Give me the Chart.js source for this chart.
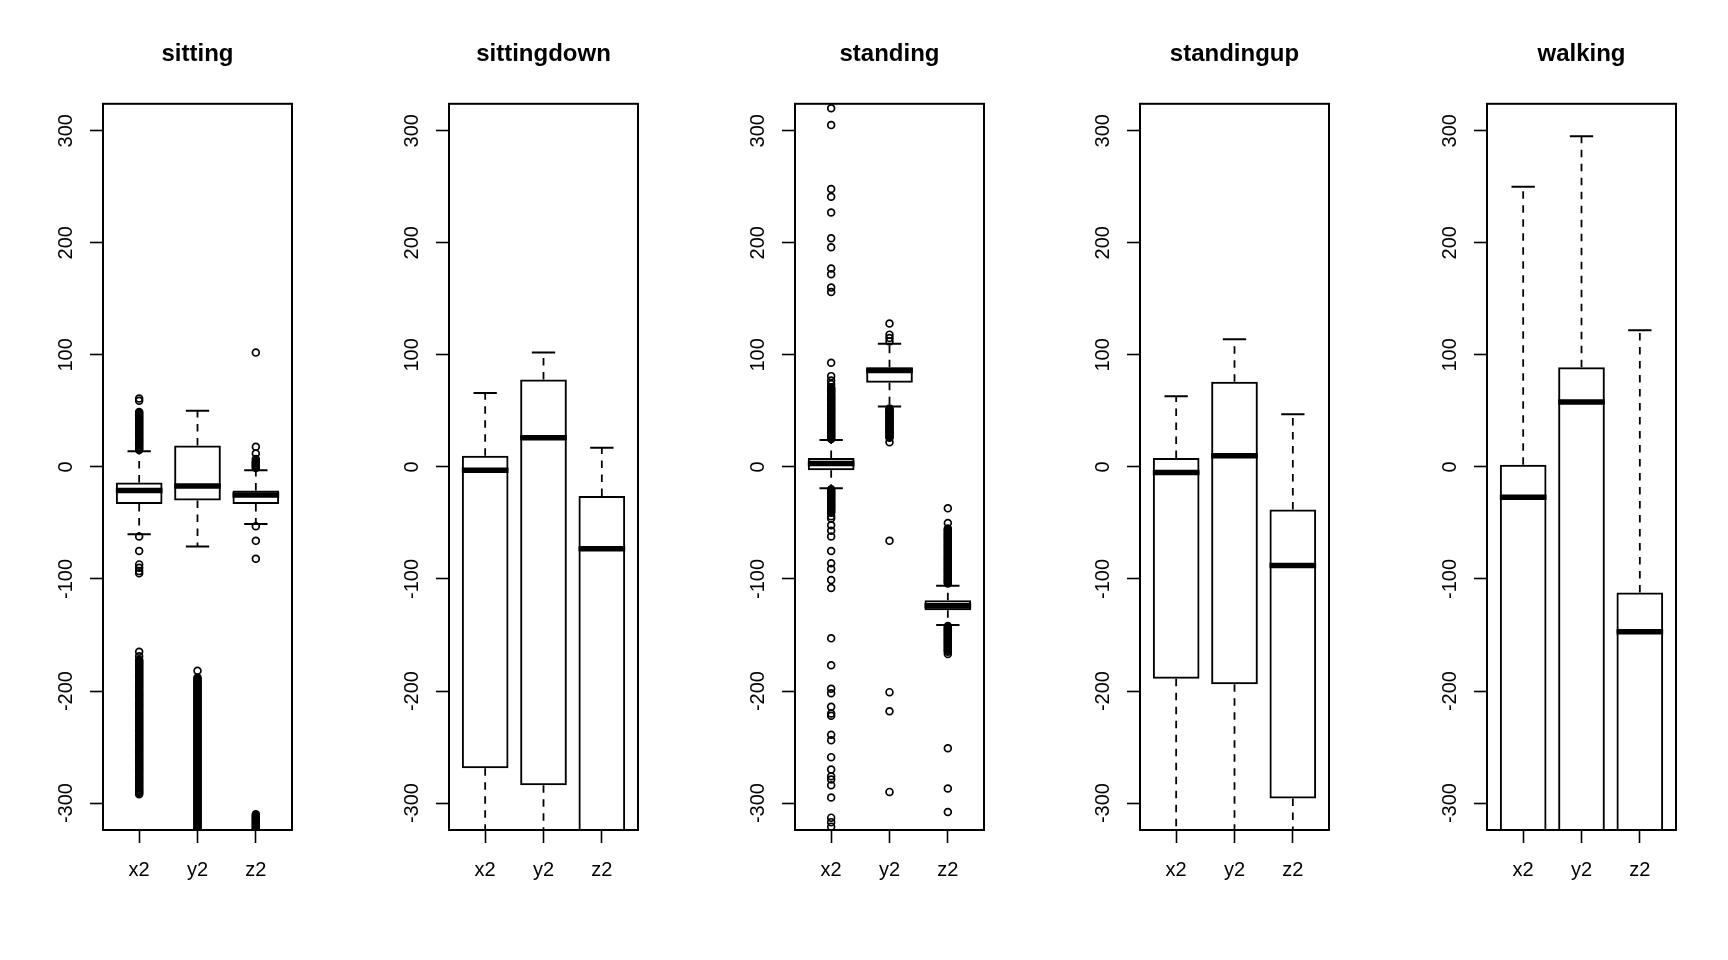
<!DOCTYPE html>
<html>
<head>
<meta charset="utf-8">
<title>Boxplots by activity</title>
<script src="https://cdn.jsdelivr.net/npm/chart.js@4.4.1/dist/chart.umd.min.js"></script>
<style>
  html, body { margin: 0; padding: 0; background: #fff; }
  #wrap { position: relative; width: 1728px; height: 960px; overflow: hidden; background: #fff; }
  #wrap canvas { position: absolute; top: 0; }
</style>
</head>
<body>
<div id="wrap"></div>
<script>
// categories
const activities = ["sitting", "sittingdown", "standing", "standingup", "walking"];
const variables = ["x2", "y2", "z2"];
const yTicks = [-300, -200, -100, 0, 100, 200, 300];

// box statistics, one row per activity, columns x2 / y2 / z2
// (values below -324 run off the bottom of the plot)
const lowerWhisker = [
  [-60, -71, -51],
  [-400, -400, -400],
  [-19, 54, -141],
  [-400, -400, -400],
  [-400, -400, -400]
];
const lowerHinge = [
  [-33, -30, -33],
  [-269, -284, -340],
  [-3, 75, -128],
  [-189, -194, -296],
  [-340, -340, -340]
];
const medians = [
  [-21, -17, -25],
  [-3, 26, -73],
  [3, 86, -124],
  [-5, 10, -88],
  [-27, 58, -147]
];
const upperHinge = [
  [-14, 19, -21],
  [10, 78, -26],
  [8, 89, -119],
  [8, 76, -38],
  [2, 89, -112]
];
const upperWhisker = [
  [14, 50, -3],
  [66, 102, 17],
  [24, 110, -106],
  [63, 114, 47],
  [250, 295, 122]
];

// outliers (the dense runs are many overlapping points)
const sittingOut = [
  [61, 59,
   49, 48, 47, 46, 45, 44, 43, 42, 41, 40, 39, 38, 37, 36, 35, 34, 33, 32,
   31, 30, 29, 28, 27, 26, 25, 24, 23, 22, 21, 20, 19, 18, 17, 16, 15,
   -62, -75, -87, -90, -93, -95, -165, -169,
   -172, -173, -174, -175, -176, -177, -178, -179, -180, -181,
   -182, -183, -184, -185, -186, -187, -188, -189, -190, -191,
   -192, -193, -194, -195, -196, -197, -198, -199, -200, -201,
   -202, -203, -204, -205, -206, -207, -208, -209, -210, -211,
   -212, -213, -214, -215, -216, -217, -218, -219, -220, -221,
   -222, -223, -224, -225, -226, -227, -228, -229, -230, -231,
   -232, -233, -234, -235, -236, -237, -238, -239, -240, -241,
   -242, -243, -244, -245, -246, -247, -248, -249, -250, -251,
   -252, -253, -254, -255, -256, -257, -258, -259, -260, -261,
   -262, -263, -264, -265, -266, -267, -268, -269, -270, -271,
   -272, -273, -274, -275, -276, -277, -278, -279, -280, -281,
   -282, -283, -284, -285, -286, -287, -288, -289, -290, -291, -292],
  [-182,
   -188, -189, -190, -191, -192, -193, -194, -195, -196, -197,
   -198, -199, -200, -201, -202, -203, -204, -205, -206, -207,
   -208, -209, -210, -211, -212, -213, -214, -215, -216, -217,
   -218, -219, -220, -221, -222, -223, -224, -225, -226, -227,
   -228, -229, -230, -231, -232, -233, -234, -235, -236, -237,
   -238, -239, -240, -241, -242, -243, -244, -245, -246, -247,
   -248, -249, -250, -251, -252, -253, -254, -255, -256, -257,
   -258, -259, -260, -261, -262, -263, -264, -265, -266, -267,
   -268, -269, -270, -271, -272, -273, -274, -275, -276, -277,
   -278, -279, -280, -281, -282, -283, -284, -285, -286, -287,
   -288, -289, -290, -291, -292, -293, -294, -295, -296, -297,
   -298, -299, -300, -301, -302, -303, -304, -305, -306, -307,
   -308, -309, -310, -311, -312, -313, -314, -315, -316, -317,
   -318, -319, -320, -321, -322, -323, -324, -325, -326],
  [102, 18, 12, 7, 5, 4, 3, 2, 1, 0, -1, -53, -66, -82,
   -310, -311, -312, -313, -314, -315, -316, -317, -318, -319,
   -320, -321, -322, -323, -324, -325, -326]
];
const standingOut = [
  [320, 305, 248, 241, 227, 204, 196, 177, 172, 160, 156, 93, 81, 77, 74,
   71, 70, 69, 68, 67, 66, 65, 64, 63, 62, 61, 60, 59, 58, 57, 56, 55, 54, 53, 52,
   51, 50, 49, 48, 47, 46, 45, 44, 43, 42, 41, 40, 39, 38, 37, 36, 35, 34, 33, 32,
   31, 30, 29, 28, 27, 26, 25,
   -20, -21, -22, -23, -24, -25, -26, -27, -28, -29, -30, -31, -32, -33, -34, -35,
   -36, -37, -38, -39, -40, -41, -44, -46,
   -52, -57, -62, -75, -86, -91, -101, -108, -153, -177, -198, -202, -214, -220, -222,
   -239, -244, -259, -270, -276, -279, -284, -295, -313, -317, -321],
  [128, 118, 115, 112,
   52, 51, 50, 49, 48, 47, 46, 45, 44, 43, 42, 41, 40, 39, 38, 37, 36, 35, 34, 33,
   32, 31, 30, 29, 28, 27, 26, 22,
   -66, -201, -218, -290],
  [-37, -50,
   -55, -56, -57, -58, -59, -60, -61, -62, -63, -64, -65, -66, -67, -68, -69, -70,
   -71, -72, -73, -74, -75, -76, -77, -78, -79, -80, -81, -82, -83, -84, -85, -86,
   -87, -88, -89, -90, -91, -92, -93, -94, -95, -96, -97, -98, -99, -100, -101, -102,
   -103, -104,
   -142, -143, -144, -145, -146, -147, -148, -149, -150, -151, -152, -153, -154,
   -155, -156, -157, -158, -159, -160, -161, -162, -163, -164, -165, -167,
   -251, -287, -308]
];
const outliers = [sittingOut, [[], [], []], standingOut, [[], [], []], [[], [], []]];

const FONT = '"Liberation Sans", Arial, Helvetica, sans-serif';
Chart.defaults.font.family = FONT;
Chart.defaults.color = "#000";

const BOX_HALF = 0.4;     // boxwex 0.8
const STAPLE_HALF = 0.2;  // staplewex 0.5
const panelLeft = [0, 346, 692, 1037, 1384];
const panelWidth = [346, 346, 346, 346, 344];

const framePlugin = {
  id: "frame",
  afterDatasetsDraw(chart) {
    const { ctx, chartArea: a } = chart;
    ctx.save();
    ctx.strokeStyle = "#000";
    ctx.lineWidth = 2;
    ctx.strokeRect(a.left, a.top, a.right - a.left, a.bottom - a.top);
    ctx.restore();
  }
};

const tickGrid = {
  display: true,
  drawOnChartArea: false,
  offset: false,
  tickLength: 13,
  tickWidth: 1.6,
  tickColor: "#000"
};

activities.forEach((name, k) => {
  const boxes = [];
  const medianLines = [];
  const whiskers = [];
  const staples = [];
  const points = [];

  variables.forEach((v, i) => {
    const x = i + 1;
    boxes.push({ x, y: [lowerHinge[k][i], upperHinge[k][i]] });
    medianLines.push(
      { x: x - BOX_HALF, y: medians[k][i] },
      { x: x + BOX_HALF, y: medians[k][i] },
      { x, y: null }
    );
    whiskers.push(
      { x, y: upperHinge[k][i] }, { x, y: upperWhisker[k][i] }, { x, y: null },
      { x, y: lowerHinge[k][i] }, { x, y: lowerWhisker[k][i] }, { x, y: null }
    );
    staples.push(
      { x: x - STAPLE_HALF, y: upperWhisker[k][i] }, { x: x + STAPLE_HALF, y: upperWhisker[k][i] }, { x, y: null },
      { x: x - STAPLE_HALF, y: lowerWhisker[k][i] }, { x: x + STAPLE_HALF, y: lowerWhisker[k][i] }, { x, y: null }
    );
    outliers[k][i].forEach((o) => points.push({ x, y: o }));
  });

  const canvas = document.createElement("canvas");
  canvas.width = panelWidth[k];
  canvas.height = 960;
  canvas.style.left = panelLeft[k] + "px";
  canvas.style.width = panelWidth[k] + "px";
  canvas.style.height = "960px";
  document.getElementById("wrap").appendChild(canvas);

  new Chart(canvas.getContext("2d"), {
    type: "bar",
    data: {
      datasets: [
        {
          type: "scatter",
          data: points,
          pointRadius: 3.4,
          pointBorderWidth: 1.7,
          pointBorderColor: "#000",
          pointBackgroundColor: "rgba(0,0,0,0)",
          clip: 0
        },
        {
          type: "line",
          data: staples,
          borderColor: "#000",
          borderWidth: 2,
          pointRadius: 0,
          spanGaps: false,
          clip: 0
        },
        {
          type: "line",
          data: whiskers,
          borderColor: "#000",
          borderWidth: 1.8,
          borderDash: [7.5, 6.5],
          pointRadius: 0,
          spanGaps: false,
          clip: 0
        },
        {
          type: "line",
          data: medianLines,
          borderColor: "#000",
          borderWidth: 5.5,
          borderCapStyle: "butt",
          pointRadius: 0,
          spanGaps: false,
          clip: 0
        },
        {
          type: "bar",
          data: boxes,
          backgroundColor: "rgba(255,255,255,0)",
          borderColor: "#000",
          borderWidth: 2,
          borderSkipped: false,
          categoryPercentage: 1,
          barPercentage: 0.8,
          clip: 0
        }
      ]
    },
    options: {
      responsive: false,
      animation: false,
      events: [],
      layout: { padding: { left: 0, right: panelWidth[k] - 292, top: 0, bottom: 0 } },
      plugins: {
        legend: { display: false },
        tooltip: { enabled: false },
        title: {
          display: true,
          text: name,
          fullSize: false,
          color: "#000",
          font: { size: 24, weight: "bold", family: FONT },
          padding: { top: 40, bottom: 35 }
        }
      },
      scales: {
        x: {
          type: "linear",
          min: 0.38,
          max: 3.62,
          offset: false,
          afterBuildTicks: (s) => { s.ticks = variables.map((v, i) => ({ value: i + 1 })); },
          afterFit: (s) => { s.height = 130; },
          ticks: {
            autoSkip: false,
            maxRotation: 0,
            padding: 15,
            color: "#000",
            font: { size: 20, family: FONT },
            callback: (v) => variables[v - 1]
          },
          grid: tickGrid,
          border: { display: false }
        },
        y: {
          type: "linear",
          min: -324,
          max: 324,
          afterBuildTicks: (s) => { s.ticks = yTicks.map((v) => ({ value: v })); },
          afterFit: (s) => { s.width = 103; },
          ticks: {
            autoSkip: false,
            minRotation: 90,
            maxRotation: 90,
            crossAlign: "center",
            padding: 3.5,
            color: "#000",
            font: { size: 20, family: FONT },
            callback: (v) => String(v)
          },
          grid: tickGrid,
          border: { display: false }
        }
      }
    },
    plugins: [framePlugin]
  });
});
</script>
</body>
</html>
